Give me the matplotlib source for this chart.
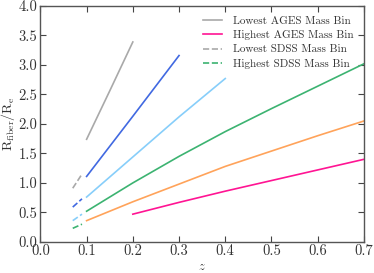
import matplotlib
matplotlib.use("Agg")
import matplotlib.pyplot as plt

plt.rcParams["font.family"] = "serif"
plt.rcParams["font.serif"] = ["cmr10", "DejaVu Serif"]
plt.rcParams["mathtext.fontset"] = "cm"
plt.rcParams["axes.formatter.use_mathtext"] = True

# AGES mass bins (solid lines), lowest -> highest mass
ages_z = [
    [0.1, 0.15, 0.2],
    [0.1, 0.2, 0.3],
    [0.1, 0.2, 0.3, 0.4],
    [0.1, 0.2, 0.3, 0.4, 0.5, 0.6, 0.7],
    [0.1, 0.2, 0.3, 0.4, 0.5, 0.6, 0.7],
    [0.2, 0.3, 0.4, 0.5, 0.6, 0.7],
]
ages_ratio = [
    [1.74, 2.56, 3.39],
    [1.11, 2.13, 3.16],
    [0.76, 1.44, 2.12, 2.77],
    [0.52, 1.00, 1.45, 1.87, 2.26, 2.64, 3.02],
    [0.36, 0.68, 0.98, 1.28, 1.54, 1.80, 2.05],
    [0.47, 0.67, 0.86, 1.04, 1.22, 1.40],
]
ages_colors = ["darkgray", "royalblue", "lightskyblue", "mediumseagreen", "#ffa35a", "deeppink"]

# SDSS mass bins (dashed lines), lowest -> highest mass
sdss_z = [0.07, 0.09]
sdss_ratio = [
    [0.91, 1.15],
    [0.59, 0.73],
    [0.36, 0.47],
    [0.23, 0.30],
]
sdss_colors = ["darkgray", "royalblue", "lightskyblue", "mediumseagreen"]

fig = plt.figure(figsize=(3.74, 2.73), dpi=100)
ax = fig.add_axes([0.108, 0.114, 0.865, 0.864])

for z, r, c in zip(ages_z, ages_ratio, ages_colors):
    ax.plot(z, r, color=c, lw=1.2)
for r, c in zip(sdss_ratio, sdss_colors):
    ax.plot(sdss_z, r, color=c, lw=1.2, ls="--")

# legend proxies
h1, = ax.plot([], [], color="darkgray", lw=1.2, label="Lowest AGES Mass Bin")
h2, = ax.plot([], [], color="deeppink", lw=1.2, label="Highest AGES Mass Bin")
h3, = ax.plot([], [], color="darkgray", lw=1.2, ls="--", label="Lowest SDSS Mass Bin")
h4, = ax.plot([], [], color="mediumseagreen", lw=1.2, ls="--", label="Highest SDSS Mass Bin")
ax.legend(handles=[h1, h2, h3, h4], loc="upper right", frameon=False, fontsize=8,
          handlelength=1.7, labelspacing=0.4, borderaxespad=0.5, handletextpad=1.0,
          labelcolor="#333333")

ax.set_xlim(0.0, 0.7)
ax.set_ylim(0.0, 4.0)
ax.set_xticks([0.0, 0.1, 0.2, 0.3, 0.4, 0.5, 0.6, 0.7])
ax.set_yticks([0.0, 0.5, 1.0, 1.5, 2.0, 2.5, 3.0, 3.5, 4.0])
ax.set_xticklabels(["0.0", "0.1", "0.2", "0.3", "0.4", "0.5", "0.6", "0.7"])
ax.set_yticklabels(["0.0", "0.5", "1.0", "1.5", "2.0", "2.5", "3.0", "3.5", "4.0"])
ax.tick_params(direction="in", top=True, right=True, length=4, width=0.8, pad=2,
               colors="#444444", labelsize=10.5, labelcolor="#333333")
for s in ax.spines.values():
    s.set_color("#555555")
    s.set_linewidth(1.0)

ax.set_xlabel(r"$z$", fontsize=9, color="#333333", labelpad=2)
ax.set_ylabel(r"$\mathrm{R_{fiber}/R_e}$", fontsize=10, color="#333333", labelpad=1)

fig.savefig("out.png", dpi=100)
